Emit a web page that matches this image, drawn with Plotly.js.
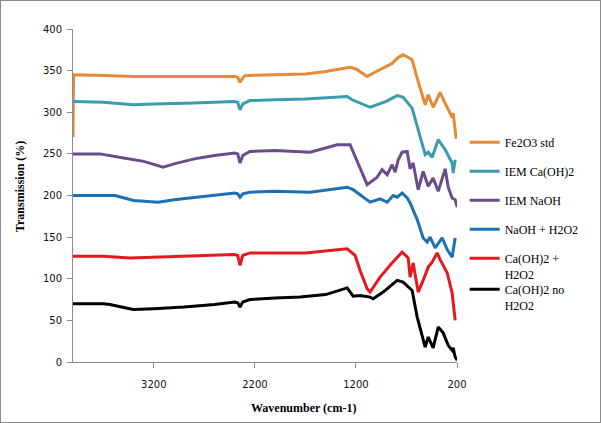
<!DOCTYPE html>
<html>
<head>
<meta charset="utf-8">
<script src="https://cdn.plot.ly/plotly-3.0.1.min.js"></script>
<style>
html,body{margin:0;padding:0;background:#fff;}
#wrap{position:relative;width:601px;height:423px;}
#chart{width:601px;height:423px;}
#frame{position:absolute;left:0;top:0;width:599px;height:421px;border:1px solid #8c8c8c;pointer-events:none;}
</style>
</head>
<body>
<div id="wrap"><div id="chart"></div><div id="frame"></div></div>
<script>
// Series names
const seriesNames = ["Fe2O3 std", "IEM Ca(OH)2", "IEM NaOH", "NaOH + H2O2", "Ca(OH)2 +<br>H2O2", "Ca(OH)2 no<br>H2O2"];

// Fe2O3 std
const fe2o3_x = [4000,3995,3700,3400,3000,2600,2400,2370,2347,2320,2300,2000,1700,1500,1258,1200,1089,1000,850,780,733,700,644,580,515,485,460,436,400,367,330,287,248,238,218,208];
const fe2o3_y = [270,345,344,343,343,343,343,342,336,341,344,345,346,349,354,352,343,349,358,366,369,367,363,335,309,321,314,306,315,324,314,303,294,299,282,268];

// IEM Ca(OH)2
const iemca_x = [4000,3700,3406,3200,2800,2400,2370,2347,2320,2250,2000,1700,1287,1238,1060,900,792,733,644,600,545,515,485,446,386,317,248,238,218];
const iemca_y = [313,312,309,310,311,313,312,303,310,314,315,316,319,315,306,313,320,318,305,285,263,249,252,246,267,255,239,227,243];

// IEM NaOH
const iemna_x = [4000,3733,3500,3300,3109,3000,2800,2600,2400,2370,2347,2320,2250,2000,1654,1386,1258,1178,1089,990,941,891,842,812,782,743,693,664,634,584,535,485,436,386,317,287,248,218,198];
const iemna_y = [250,250,245,241,234,238,244,248,251,250,239,248,253,254,252,261,261,239,213,222,231,225,237,228,243,252,253,232,239,207,229,211,221,205,232,210,197,195,186];

// NaOH + H2O2
const naoh_x = [4000,3800,3584,3400,3158,3000,2700,2400,2370,2347,2320,2250,2000,1654,1287,1228,1060,961,891,832,792,743,693,664,594,535,495,466,416,347,297,248,218];
const naoh_y = [200,200,200,194,192,195,199,203,202,198,202,204,205,204,210,207,192,196,192,200,198,203,197,191,171,149,144,150,137,149,135,126,149];

// Ca(OH)2 + H2O2
const caH_x = [4000,3700,3436,3200,2800,2400,2370,2347,2320,2250,2000,1700,1287,1208,1159,1089,1060,961,850,743,683,664,634,584,535,485,446,396,367,297,248,218];
const caH_y = [127,127,125,126,128,129,128,116,128,131,131,131,136,128,110,88,84,102,118,132,125,102,119,84,98,114,120,131,123,107,83,50];

// Ca(OH)2 no H2O2
const caN_x = [4000,3700,3634,3500,3406,3200,2900,2600,2400,2370,2347,2320,2250,2000,1753,1500,1287,1228,1159,1060,1030,931,792,733,644,594,515,485,436,386,337,287,248,238,218,198];
const caN_y = [70,70,69,65,63,64,66,69,72,71,66,72,75,77,78,81,89,79,80,78,76,84,98,96,86,54,18,30,17,42,35,20,14,17,6,2];

const colors = ["#E68A35", "#3C9BAD", "#6A4C8B", "#1C70B6", "#E3191E", "#000000"];

// Axis ticks
const xTicks = [3200, 2200, 1200, 200];
const yTicks = [0, 50, 100, 150, 200, 250, 300, 350, 400];

const xs = [fe2o3_x, iemca_x, iemna_x, naoh_x, caH_x, caN_x];
const ys = [fe2o3_y, iemca_y, iemna_y, naoh_y, caH_y, caN_y];

const legendIds = ["legend", "legend2", "legend3", "legend4", "legend5", "legend6"];
const legendTops = [0.7027, 0.6156, 0.5285, 0.4414, 0.3544, 0.2613];

const traces = seriesNames.map((n, i) => ({
  x: xs[i], y: ys[i], name: n, type: "scatter", mode: "lines",
  line: {color: colors[i], width: 3},
  legend: legendIds[i]
}));

const layout = {
  width: 601, height: 423,
  margin: {l: 73, r: 144, t: 29, b: 61},
  paper_bgcolor: "#ffffff", plot_bgcolor: "#ffffff",
  showlegend: true,
  xaxis: {
    range: [4000, 200], autorange: false,
    tickvals: xTicks, ticktext: xTicks.map(String),
    showgrid: false, zeroline: false,
    showline: true, linecolor: "#8c8c8c", linewidth: 1,
    ticks: "outside", ticklen: 5, tickcolor: "#8c8c8c",
    ticklabelstandoff: 8,
    tickfont: {family: "DejaVu Sans", size: 10, color: "#111"}
  },
  yaxis: {
    range: [0, 400], autorange: false,
    tickvals: yTicks,
    showgrid: false, zeroline: false,
    showline: true, linecolor: "#8c8c8c", linewidth: 1,
    ticks: "outside", ticklen: 5, tickcolor: "#8c8c8c",
    ticklabelstandoff: 3,
    tickfont: {family: "DejaVu Sans", size: 10, color: "#111"}
  },
  annotations: [
    {text: "<b>Wavenumber (cm-1)</b>", xref: "paper", yref: "paper",
     x: 0.599, y: -0.138, xanchor: "center", yanchor: "middle", showarrow: false,
     font: {family: "Liberation Serif", size: 12, color: "#000"}},
    {text: "<b>Transmission (%)</b>", xref: "paper", yref: "paper",
     x: -0.139, y: 0.527, xanchor: "center", yanchor: "middle", showarrow: false, textangle: -90,
     font: {family: "Liberation Serif", size: 12, color: "#000"}}
  ]
};

legendIds.forEach((id, i) => {
  layout[id] = {
    x: 1.02, y: legendTops[i], xanchor: "left", yanchor: "top",
    font: {family: "Liberation Serif", size: 12, color: "#000"},
    valign: "top", itemwidth: 30,
    bgcolor: "rgba(0,0,0,0)"
  };
});

Plotly.newPlot("chart", traces, layout, {displayModeBar: false, staticPlot: true});
</script>
</body>
</html>
